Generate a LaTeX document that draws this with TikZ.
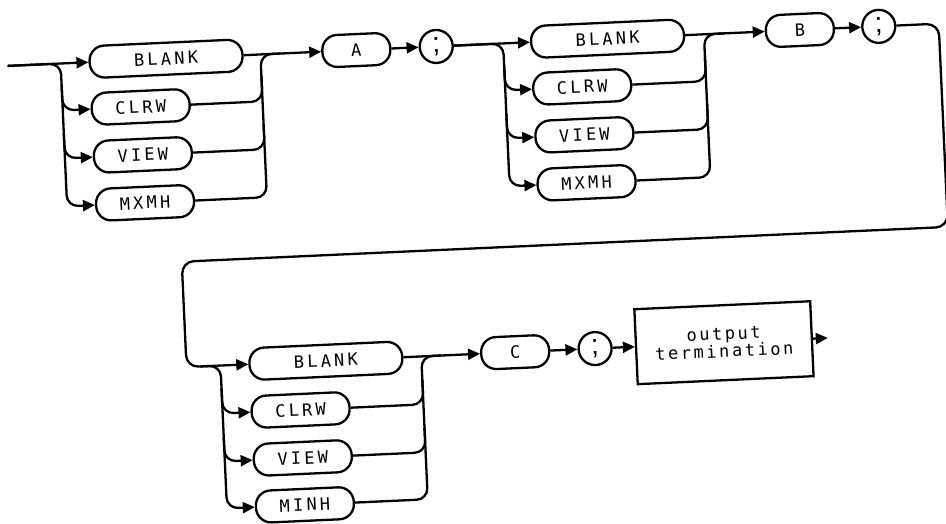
\documentclass[tikz,border=0pt]{standalone}
\usepackage{fontspec}
\newfontfamily\hpfont{DejaVu Sans Mono}[LetterSpace=19]
\newfontfamily\hpsmall{DejaVu Sans Mono}[LetterSpace=15]
\newfontfamily\hpsemi{Liberation Sans}
\usetikzlibrary{arrows.meta,calc}
\begin{document}
\begin{tikzpicture}[x=1pt,y=-1pt,
  conn/.style={line width=2.3pt},
  arr/.style={conn,-{Triangle[length=12pt,width=11pt]}},
  rc/.style={rounded corners=11pt},
  kw/.style={draw,line width=2.3pt,rounded corners=15pt,minimum height=32pt,inner sep=0pt,font=\hpfont\fontsize{17}{17}\selectfont},
  wide/.style={kw,minimum width=153pt},
  narrow/.style={kw,minimum width=98pt},
  letter/.style={kw,minimum width=68pt},
  semi/.style={draw,circle,line width=2.3pt,minimum size=33pt,inner sep=0pt,font=\hpsemi\fontsize{28}{28}\selectfont},
  termbox/.style={draw,line width=2.3pt,minimum width=176pt,minimum height=75pt,inner sep=0pt,align=center,font=\hpsmall\fontsize{17}{15}\selectfont}
]
\useasboundingbox (0,0) rectangle (946,523);
\begin{scope}[rotate around={2.6:(473,261)}, every node/.append style={transform shape}]
% ---------- group 1
\coordinate (in) at (17,45);
\coordinate (l1) at (70,45);
\coordinate (r1) at (270,45);
\node[wide] (blank1) at (175.5,45) {BLANK};
\node[narrow] (clrw1) at (148,92) {CLRW};
\node[narrow] (view1) at (148,140) {VIEW};
\node[narrow] (mxmh1) at (148,188) {MXMH};
\draw[arr] (in) -- (blank1.west);
\draw[arr,rc] (in) -- (l1) -- (l1 |- mxmh1.west) -- (mxmh1.west);
\draw[arr,rc] ($(l1 |- clrw1.west)+(0,-25)$) -- (l1 |- clrw1.west) -- (clrw1.west);
\draw[arr,rc] ($(l1 |- view1.west)+(0,-25)$) -- (l1 |- view1.west) -- (view1.west);
\node[letter] (a) at (366,45) {A};
\draw[arr] (blank1.east) -- (a.west);
\draw[conn,rc] (mxmh1.east) -- (r1 |- mxmh1.east) -- (r1) -- ($(r1)+(20,0)$);
\draw[conn,rc] (clrw1.east) -- (r1 |- clrw1.east) -- ++(0,-25);
\draw[conn,rc] (view1.east) -- (r1 |- view1.east) -- ++(0,-25);
% ---------- group 2
\node[semi] (s1) at (446,45) {;};
\draw[arr] (a.east) -- (s1.west);
\coordinate (l2) at (513,45);
\coordinate (r2) at (714,45);
\node[wide] (blank2) at (617.5,45) {BLANK};
\node[narrow] (clrw2) at (590,92) {CLRW};
\node[narrow] (view2) at (590,140) {VIEW};
\node[narrow] (mxmh2) at (590,188) {MXMH};
\draw[arr] (s1.east) -- (blank2.west);
\draw[arr,rc] (s1.east) -- (l2) -- (l2 |- mxmh2.west) -- (mxmh2.west);
\draw[arr,rc] ($(l2 |- clrw2.west)+(0,-25)$) -- (l2 |- clrw2.west) -- (clrw2.west);
\draw[arr,rc] ($(l2 |- view2.west)+(0,-25)$) -- (l2 |- view2.west) -- (view2.west);
\node[letter] (b) at (810,45) {B};
\draw[arr] (blank2.east) -- (b.west);
\draw[conn,rc] (mxmh2.east) -- (r2 |- mxmh2.east) -- (r2) -- ($(r2)+(20,0)$);
\draw[conn,rc] (clrw2.east) -- (r2 |- clrw2.east) -- ++(0,-25);
\draw[conn,rc] (view2.east) -- (r2 |- view2.east) -- ++(0,-25);
\node[semi] (s2) at (889,45) {;};
\draw[arr] (b.east) -- (s2.west);
% ---------- loop
\coordinate (c1) at (949,45);
\coordinate (c2) at (949,248.5);
\coordinate (c3) at (182,248.5);
\node[wide] (blank3) at (321.5,354) {BLANK};
\draw[arr,rounded corners=12pt] (s2.east) -- (c1) -- (c2) -- (c3) -- (c3 |- blank3.west) -- (blank3.west);
% ---------- group 3
\coordinate (l3) at (216,354);
\coordinate (r3) at (417,354);
\node[narrow] (clrw3) at (294,402) {CLRW};
\node[narrow] (view3) at (294,450) {VIEW};
\node[narrow] (minh) at (294,497) {MINH};
\draw[arr,rc] ($(l3)+(-20,0)$) -- (l3) -- (l3 |- minh.west) -- (minh.west);
\draw[arr,rc] ($(l3 |- clrw3.west)+(0,-25)$) -- (l3 |- clrw3.west) -- (clrw3.west);
\draw[arr,rc] ($(l3 |- view3.west)+(0,-25)$) -- (l3 |- view3.west) -- (view3.west);
\node[letter] (c) at (511,354) {C};
\draw[arr] (blank3.east) -- (c.west);
\draw[conn,rc] (minh.east) -- (r3 |- minh.east) -- (r3) -- ($(r3)+(20,0)$);
\draw[conn,rc] (clrw3.east) -- (r3 |- clrw3.east) -- ++(0,-25);
\draw[conn,rc] (view3.east) -- (r3 |- view3.east) -- ++(0,-25);
\node[semi] (s3) at (591,354) {;};
\draw[arr] (c.east) -- (s3.west);
\node[termbox] (out) at (720,354) {output\\termination};
\draw[arr] (s3.east) -- (out.west);
\coordinate (end) at (824,354);
\draw[arr] (out.east) -- (end);
\end{scope}
\end{tikzpicture}
\end{document}
